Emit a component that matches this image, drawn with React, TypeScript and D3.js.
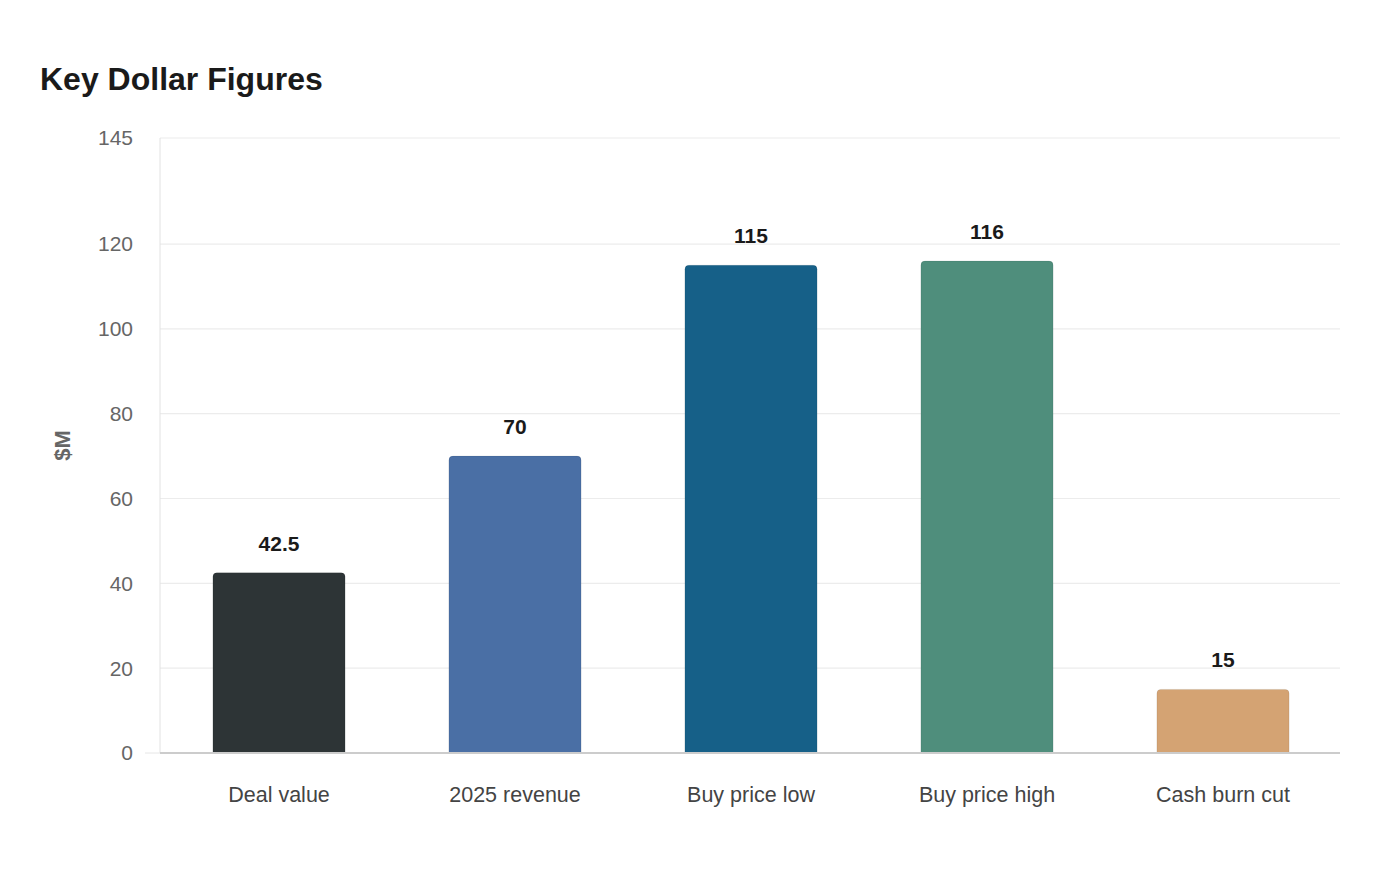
import React from "react";
import * as d3 from "d3";

const categories = ["Deal value", "2025 revenue", "Buy price low", "Buy price high", "Cash burn cut"];
const values = [42.5, 70, 115, 116, 15];
const colors = ["#2d3436", "#4a6fa5", "#166088", "#4f8e7c", "#d4a373"];
const yTicks = [0, 20, 40, 60, 80, 100, 120, 145];

export default function App() {
  const W = 1400, H = 880;
  const left = 160, right = 1340, top = 138, bottom = 753;
  const x = d3.scaleBand<string>().domain(categories).range([left + 1, right + 1]).paddingInner(0.44).paddingOuter(0.22);
  const y = d3.scaleLinear().domain([0, 145]).range([bottom, top]);
  const font = "'Liberation Sans', Arial, sans-serif";
  const r = 4;
  const barPath = (x0: number, y0: number, w: number, h: number) => {
    const rr = Math.min(r, h / 2);
    return `M${x0},${y0 + h}V${y0 + rr}Q${x0},${y0} ${x0 + rr},${y0}H${x0 + w - rr}Q${x0 + w},${y0} ${x0 + w},${y0 + rr}V${y0 + h}Z`;
  };
  return (
    <svg width={W} height={H} style={{ position: "absolute", left: 0, top: 0, background: "#fff" }} fontFamily={font}>
      <text x={40} y={90} fontSize={32} fontWeight="bold" fill="#1a1a1a">Key Dollar Figures</text>
      {yTicks.map((t) => (
        <g key={t}>
          <line x1={left} x2={right} y1={y(t)} y2={y(t)} stroke="#ececec" strokeWidth={1.2} />
          <text x={133} y={y(t)} dy="0.35em" textAnchor="end" fontSize={21} fill="#666">{t}</text>
        </g>
      ))}
      <line x1={left} x2={left} y1={top} y2={bottom} stroke="#e2e2e2" strokeWidth={1} />
      <line x1={145} x2={left} y1={bottom} y2={bottom} stroke="#e6e6e6" />
      <text transform={`translate(70,${(top + bottom) / 2}) rotate(-90)`} textAnchor="middle" fontSize={22} fontWeight="bold" fill="#666">$M</text>
      {categories.map((c, i) => {
        const bx = x(c)!;
        const bw = x.bandwidth();
        const by = y(values[i]);
        return (
          <g key={c}>
            <path d={barPath(bx, by, bw, bottom - by)} fill={colors[i]} stroke="rgba(0,0,0,0.08)" strokeWidth={1} />
            <text x={bx + bw / 2} y={by - 22} textAnchor="middle" fontSize={21} fontWeight="bold" fill="#1a1a1a">{values[i]}</text>
            <text x={bx + bw / 2} y={802} textAnchor="middle" fontSize={21.5} fill="#444">{c}</text>
          </g>
        );
      })}
      <line x1={left} x2={right} y1={bottom} y2={bottom} stroke="#ccc" strokeWidth={2} />
    </svg>
  );
}
